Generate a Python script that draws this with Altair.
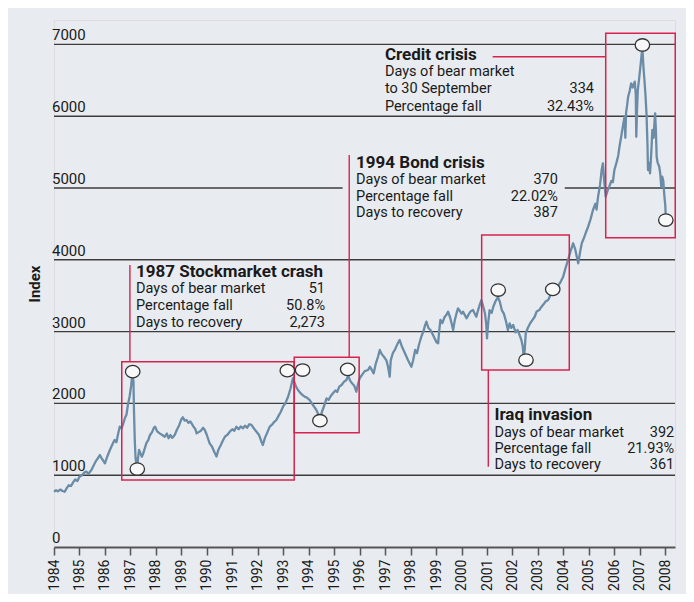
import altair as alt
import pandas as pd

# ---------------- data ----------------
dates = [
 1984.00,1984.08,1984.15,1984.25,1984.33,1984.42,1984.50,1984.58,1984.67,1984.75,1984.83,1984.92,
 1985.00,1985.10,1985.20,1985.27,1985.35,1985.47,1985.55,1985.65,1985.75,1985.80,1985.88,
 1986.00,1986.08,1986.17,1986.25,1986.32,1986.38,1986.45,1986.52,1986.58,1986.65,1986.72,1986.78,1986.85,1986.90,1986.97,
 1987.03,1987.08,1987.12,1987.14,1987.17,1987.20,1987.23,1987.27,1987.30,1987.34,1987.40,1987.45,1987.50,1987.57,1987.63,1987.70,1987.77,1987.85,1987.92,1987.97,
 1988.05,1988.15,1988.25,1988.35,1988.43,1988.50,1988.57,1988.64,1988.74,1988.82,1988.92,
 1989.00,1989.06,1989.13,1989.20,1989.28,1989.35,1989.40,1989.47,1989.55,1989.60,1989.68,1989.77,1989.85,1989.92,
 1990.00,1990.11,1990.20,1990.30,1990.38,1990.45,1990.55,1990.64,1990.72,1990.80,1990.90,
 1991.00,1991.08,1991.16,1991.25,1991.33,1991.42,1991.50,1991.58,1991.67,1991.75,1991.85,1991.95,
 1992.05,1992.13,1992.20,1992.28,1992.38,1992.47,1992.55,1992.64,1992.73,1992.82,1992.90,1992.99,
 1993.08,1993.19,1993.28,1993.38,1993.45,1993.52,1993.58,1993.66,1993.75,1993.84,1993.93,
 1994.04,1994.12,1994.20,1994.30,1994.40,1994.46,1994.52,1994.60,1994.70,1994.78,1994.86,1994.95,
 1995.05,1995.12,1995.20,1995.30,1995.38,1995.48,1995.55,1995.62,1995.70,1995.78,1995.87,1995.93,
 1996.00,1996.10,1996.20,1996.33,1996.40,1996.47,1996.55,1996.63,1996.72,1996.79,1996.86,1996.95,
 1997.05,1997.12,1997.18,1997.22,1997.30,1997.40,1997.50,1997.57,1997.65,1997.72,1997.80,1997.90,
 1998.03,1998.10,1998.18,1998.25,1998.33,1998.42,1998.50,1998.56,1998.62,1998.70,1998.78,1998.87,1998.95,
 1999.02,1999.08,1999.12,1999.17,1999.25,1999.33,1999.40,1999.47,1999.55,1999.62,1999.67,1999.73,1999.80,1999.86,1999.93,
 2000.00,2000.06,2000.13,2000.20,2000.28,2000.35,2000.45,2000.52,2000.58,2000.65,2000.72,2000.78,2000.85,2000.92,2000.97,
 2001.00,2001.04,2001.10,2001.18,2001.25,2001.33,2001.43,2001.50,2001.58,2001.66,2001.74,2001.82,2001.89,2001.95,
 2002.03,2002.12,2002.20,2002.28,2002.35,2002.40,2002.44,2002.48,2002.52,2002.60,2002.70,2002.78,2002.87,2002.95,
 2003.05,2003.14,2003.22,2003.30,2003.40,2003.48,2003.56,2003.64,2003.72,2003.80,2003.90,2003.99,
 2004.08,2004.18,2004.28,2004.38,2004.46,2004.52,2004.58,2004.65,2004.72,2004.80,2004.88,2004.97,
 2005.06,2005.16,2005.25,2005.30,2005.36,2005.44,2005.50,2005.55,2005.60,2005.66,2005.72,2005.80,2005.88,2005.94,
 2006.00,2006.08,2006.15,2006.20,2006.26,2006.33,2006.40,2006.43,2006.46,2006.50,2006.54,2006.60,2006.66,2006.72,2006.80,2006.84,2006.86,2006.89,2006.92,2006.98,
 2007.04,2007.07,2007.10,2007.14,2007.18,2007.22,2007.26,2007.30,2007.32,2007.36,2007.40,2007.45,2007.49,2007.54,2007.58,2007.60,2007.63,2007.66,2007.70,2007.76,2007.80,2007.84,2007.88,2007.92,2007.96,
 2008.00,2008.02,
]
index_values = [
 770,790,775,800,780,770,820,860,850,900,940,920,
 980,1000,1040,1050,1020,1072,1130,1200,1250,1281,1230,
 1165,1250,1330,1397,1450,1490,1460,1580,1676,1650,1720,1792,1850,1978,2100,
 2250,2430,2300,1900,1500,1250,1170,1110,1240,1351,1300,1258,1300,1380,1450,1490,1560,1600,1660,1676,
 1610,1583,1560,1536,1580,1514,1560,1520,1560,1630,1700,
 1780,1806,1760,1769,1730,1750,1723,1680,1640,1583,1600,1620,1660,1630,
 1560,1444,1400,1320,1260,1350,1420,1490,1540,1560,1606,
 1640,1620,1676,1640,1680,1653,1690,1660,1710,1700,1650,1606,
 1560,1480,1421,1520,1600,1676,1700,1740,1769,1830,1880,1954,
 2000,2093,2200,2350,2280,2220,2187,2150,2120,2093,2080,
 2047,2000,1960,1908,1830,1800,1884,1960,2071,2050,2100,2141,
 2180,2160,2233,2260,2300,2326,2390,2320,2280,2250,2163,2260,
 2350,2400,2450,2465,2511,2470,2419,2550,2650,2744,2690,2650,
 2600,2500,2372,2600,2698,2760,2840,2883,2800,2744,2680,2600,
 2511,2600,2744,2700,2820,2929,3000,3080,3138,3050,3022,2960,2900,
 2850,2837,3000,3162,3120,3200,3230,3277,3200,3100,3022,3150,3250,3324,3290,
 3250,3277,3230,3185,3240,3280,3300,3250,3207,3300,3380,3440,3350,3254,3100,
 2906,3100,3300,3260,3350,3420,3480,3420,3300,3250,3150,3022,3115,3050,
 3092,2990,3022,2950,2880,2800,2650,2740,2976,3050,3120,3160,3207,3280,
 3300,3347,3380,3420,3440,3500,3530,3560,3579,3640,3700,3765,
 3880,3997,4120,4230,4150,4050,3951,4100,4230,4300,4380,4461,
 4560,4694,4780,4700,4879,5050,5250,5344,5100,4879,4950,5018,5100,5080,
 5251,5350,5450,5575,5700,5850,5993,5700,6050,6150,6272,6350,6458,6400,6481,6300,5714,6100,6365,6550,
 6750,6860,6950,6690,6504,6300,6040,5600,5251,5350,5204,5500,5808,5700,5950,6040,5800,5436,5350,5300,5204,5018,5157,5100,4900,
 4750,4580,
]

year_ticks = list(range(1984, 2009))
y_ticks = [0, 1000, 2000, 3000, 4000, 5000, 6000, 7000]

# gridlines (5000 line is interrupted behind the Bond crisis text)
grid_val = [1000, 2000, 3000, 4000, 5000, 5000, 6000, 7000]
grid_from = [1984, 1984, 1984, 1984, 1984, 2004.05, 1984, 1984]
grid_to = [2008.38, 2008.38, 2008.38, 2008.38, 1995.33, 2008.38, 2008.38, 2008.38]

# highlighted episodes (boxes)
box_x1 = [1986.66, 1993.43, 2000.79, 2005.66]
box_x2 = [1993.43, 1995.98, 2004.23, 2008.39]
box_y1 = [933, 1592, 2465, 4308]
box_y2 = [2581, 2642, 4345, 7155]

# connector lines
con_x1 = [1986.98, 1995.59, 2001.05, 2001.22]
con_x2 = [1986.98, 1995.59, 2001.05, 2005.66]
con_y1 = [2581, 2642, 1118, 6828]
con_y2 = [3928, 5460, 2465, 6828]

# circled turning points
pt_x = [1987.09, 1987.27, 1993.16, 1993.76, 1994.44, 1995.53, 2001.44, 2002.53, 2003.58, 2007.10, 2008.02]
pt_y = [2442, 1086, 2456, 2465, 1759, 2475, 3579, 2604, 3589, 6992, 4554]

# annotation text
title_text = ["1987 Stockmarket crash", "1994 Bond crisis", "Credit crisis", "Iraq invasion"]
title_x = [1987.22, 1995.86, 1996.99, 2001.29]
title_y = [3765, 5274, 6780, 1765]

label_text = ["Days of bear market", "Percentage fall", "Days to recovery",
              "Days of bear market", "Percentage fall", "Days to recovery",
              "Days of bear market", "to 30 September", "Percentage fall",
              "Days of bear market", "Percentage fall", "Days to recovery"]
label_x = [1987.22]*3 + [1995.86]*3 + [1996.99]*3 + [2001.29]*3
label_y = [3538, 3294, 3070, 5052, 4826, 4600, 6560, 6327, 6077, 1532, 1313, 1090]

value_text = ["51", "50.8%", "2,273", "370", "22.02%", "387", "334", "32.43%", "392", "21.93%", "361"]
value_x = [1994.64]*3 + [2003.78]*3 + [2005.20]*2 + [2008.35]*3
value_y = [3538, 3294, 3070, 5052, 4826, 4600, 6327, 6077, 1532, 1313, 1090]

# ---------------- chart ----------------
BG = "#e8ecf0"
RED = "#d8234f"
LINE = "#6b8ca6"
TXT = "#1a1a1a"
FONT = "Roboto"

xs = alt.Scale(domain=[1984, 2008.38], nice=False, zero=False)
ys = alt.Scale(domain=[0, 7340], nice=False)

x_axis = alt.Axis(values=year_ticks, format="d", title=None, labelAngle=270,
                  labelFontSize=14, labelColor=TXT, labelPadding=4,
                  tickSize=8, tickWidth=1.5, tickColor="#555",
                  domainColor="#555", domainWidth=2, grid=False, labelFont=FONT)
y_axis = alt.Axis(title="Index", labels=False, ticks=False, domain=False, grid=False,
                  titleFontSize=15, titleFontWeight="bold", titleColor=TXT,
                  titlePadding=12, titleFont=FONT)

series = pd.DataFrame({"yr": dates, "val": index_values})
grid = pd.DataFrame({"yr": grid_from, "yr2": grid_to, "val": grid_val})
boxes = pd.DataFrame({"yr": box_x1, "yr2": box_x2, "val": box_y1, "val2": box_y2})
cons = pd.DataFrame({"yr": con_x1, "yr2": con_x2, "val": con_y1, "val2": con_y2})
pts = pd.DataFrame({"yr": pt_x, "val": pt_y})
titles = pd.DataFrame({"yr": title_x, "val": title_y, "t": title_text})
labels = pd.DataFrame({"yr": label_x, "val": label_y, "t": label_text})
values = pd.DataFrame({"yr": value_x, "val": value_y, "t": value_text})
ylab = pd.DataFrame({"yr": [1984]*len(y_ticks), "val": y_ticks, "t": [str(v) for v in y_ticks]})

X = alt.X("yr:Q", scale=xs, axis=x_axis)
Y = alt.Y("val:Q", scale=ys, axis=y_axis)

grid_layer = alt.Chart(grid).mark_rule(color="#3c3c3c", strokeWidth=1.4).encode(
    x=X, x2="yr2:Q", y=Y)

line_layer = alt.Chart(series).mark_line(color=LINE, strokeWidth=2.3, strokeJoin="round").encode(
    x=X, y=Y)

box_layer = alt.Chart(boxes).mark_rect(fill=None, stroke=RED, strokeWidth=1.5).encode(
    x=X, x2="yr2:Q", y=Y, y2="val2:Q")

con_layer = alt.Chart(cons).mark_rule(color=RED, strokeWidth=1.4).encode(
    x=X, x2="yr2:Q", y=Y, y2="val2:Q")

ellipse = "M-1,0A1,0.86,0,1,1,1,0A1,0.86,0,1,1,-1,0Z"
pt_layer = alt.Chart(pts).mark_point(shape=ellipse, size=210, filled=True, fill="#f8f8f8",
                                     stroke="#333", strokeWidth=1.3, opacity=1).encode(
    x=X, y=Y)

ylab_layer = alt.Chart(ylab).mark_text(align="left", baseline="alphabetic", dx=-2, dy=-4,
                                       fontSize=15, color=TXT, font=FONT).encode(
    x=X, y=Y, text="t:N")

title_layer = alt.Chart(titles).mark_text(align="left", baseline="alphabetic", fontSize=17,
                                          fontWeight="bold", color=TXT, font=FONT).encode(
    x=X, y=Y, text="t:N")

label_layer = alt.Chart(labels).mark_text(align="left", baseline="alphabetic", fontSize=14.5,
                                          color=TXT, font=FONT).encode(
    x=X, y=Y, text="t:N")

value_layer = alt.Chart(values).mark_text(align="right", baseline="alphabetic", fontSize=14.5,
                                          color=TXT, font=FONT).encode(
    x=X, y=Y, text="t:N")

chart = alt.layer(grid_layer, line_layer, box_layer, con_layer, pt_layer,
                  ylab_layer, title_layer, label_layer, value_layer).properties(
    width=621, height=527,
    background=BG,
    padding={"left": 46, "top": 12, "right": 11, "bottom": 47},
    autosize=alt.AutoSizeParams(type="none"),
).configure_view(stroke=None).configure(font=FONT)

chart.save("out.html", embed_options={"renderer": "svg", "actions": False})
